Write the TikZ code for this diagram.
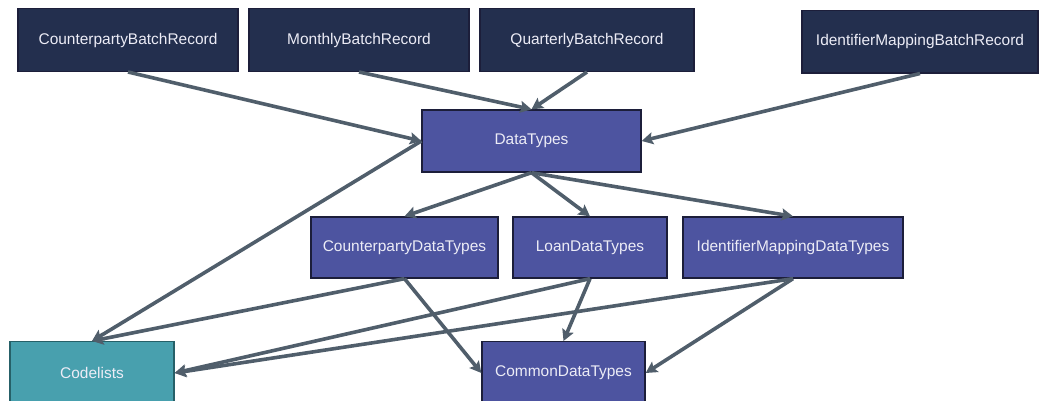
\documentclass[tikz,border=0pt]{standalone}
\usepackage{fontspec}
\setmainfont{Liberation Sans}
\usetikzlibrary{positioning, arrows.meta}
\usepackage{xcolor}
\definecolor{recordblue}{RGB}{35,47,78}
\definecolor{typesblue}{RGB}{77,84,160}
\definecolor{codeteal}{RGB}{72,160,174}
\definecolor{boxedge}{RGB}{28,30,58}
\definecolor{tealedge}{RGB}{38,96,104}
\definecolor{arrowgrey}{RGB}{80,94,107}
\definecolor{boxtext}{RGB}{236,236,246}
\tikzset{box/.style={rectangle, draw=boxedge, line width=1pt, text=boxtext,
                     font=\fontsize{11.6}{13}\selectfont, minimum height=47pt, inner sep=2pt},
         record/.style={box, fill=recordblue},
         types/.style={box, fill=typesblue},
         codes/.style={box, fill=codeteal, draw=tealedge},
         link/.style={->, arrowgrey, line width=2.7pt}}

\begin{document}
\begin{tikzpicture}[x=0.75pt, y=-0.75pt, >={Stealth[length=8.5pt, width=9pt, inset=1.5pt]}]

        \useasboundingbox (0, 0) rectangle (1039, 400);

        % Batch records
        \node[record, minimum width=165pt] (cbr) at (128, 40) {CounterpartyBatchRecord};
        \node[record, minimum width=165pt] (mbr) at (359, 40) {MonthlyBatchRecord};
        \node[record, minimum width=160.5pt] (qbr) at (587, 40) {QuarterlyBatchRecord};
        \node[record, minimum width=177pt] (imbr) at (920, 41.5) {IdentifierMappingBatchRecord};

        % Data types
        \node[types, minimum width=164.25pt, minimum height=46.5pt] (dt) at (531.5, 141) {DataTypes};
        \node[types, minimum width=140.25pt, minimum height=45.75pt] (cdt) at (404.5, 247.5) {CounterpartyDataTypes};
        \node[types, minimum width=115.5pt, minimum height=45.75pt] (ldt) at (590, 247.5) {LoanDataTypes};
        \node[types, minimum width=165pt, minimum height=45.75pt] (imdt) at (793, 247.5) {IdentifierMappingDataTypes};

        % Bottom row
        \node[codes, minimum width=123pt] (cl) at (92, 373) {Codelists};
        \node[types, minimum width=122.25pt] (cmdt) at (563.5, 373) {CommonDataTypes};

        % Records to DataTypes
        \draw[link] (cbr.south) -- (dt.west);
        \draw[link] (mbr.south) -- (dt.north);
        \draw[link] (qbr.south) -- (dt.north);
        \draw[link] (imbr.south) -- (dt.east);

        % DataTypes down
        \draw[link] (dt.south) -- (cdt.north);
        \draw[link] (dt.south) -- (ldt.north);
        \draw[link] (dt.south) -- (imdt.north);
        \draw[link] (dt.west) -- (cl.north);

        % Into Codelists and CommonDataTypes
        \draw[link] (cdt.south) -- (cl.north);
        \draw[link] (cdt.south) -- (cmdt.west);
        \draw[link] (ldt.south) -- (cl.east);
        \draw[link] (ldt.south) -- (cmdt.north);
        \draw[link] (imdt.south) -- (cl.east);
        \draw[link] (imdt.south) -- (cmdt.east);

    \end{tikzpicture}
\end{document}
